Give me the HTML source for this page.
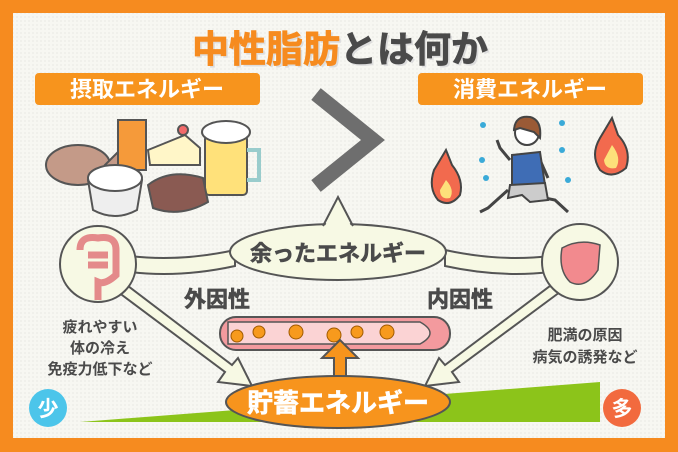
<!DOCTYPE html>
<html><head><meta charset="utf-8"><style>
body{margin:0;width:678px;height:452px;overflow:hidden;background:#f68b1f}
svg{display:block}
text{font-family:"Liberation Sans","Noto Sans CJK JP",sans-serif;font-weight:bold}
</style></head><body>
<svg width="678" height="452" viewBox="0 0 678 452">
<defs><pattern id="dots" width="4" height="4" patternUnits="userSpaceOnUse"><rect width="4" height="4" fill="#f7f7f2"/><circle cx="1" cy="1" r="0.6" fill="#e2e2dc"/></pattern></defs>
<rect x="0" y="0" width="678" height="452" fill="#f68b1f"/>
<rect x="13" y="13" width="652" height="425" fill="url(#dots)"/>
<!-- title -->
<text x="340" y="62" font-size="37" text-anchor="middle" fill="#ddd" transform="translate(2,2)">中性脂肪とは何か</text>
<text x="340" y="62" font-size="37" text-anchor="middle" stroke-width="0.8"><tspan fill="#f68b1f" stroke="#f68b1f">中性脂肪</tspan><tspan fill="#4a4a4a" stroke="#4a4a4a">とは何か</tspan></text>
<!-- labels -->
<rect x="35" y="73" width="225" height="32" rx="4" fill="#f7941d"/>
<text x="147" y="97" font-size="22" fill="#fff" text-anchor="middle">摂取エネルギー</text>
<rect x="418" y="73" width="225" height="32" rx="4" fill="#f7941d"/>
<text x="530" y="97" font-size="22" fill="#fff" text-anchor="middle">消費エネルギー</text>
<!-- chevron -->
<polyline points="316,94 373,140 316,186" fill="none" stroke="#6e6e6e" stroke-width="15"/>
<!-- foods -->
<g stroke="#555" stroke-width="2">
<ellipse cx="78" cy="165" rx="32" ry="20" fill="#c49a88"/>
<polygon points="105,165 122,148 120,180" fill="#c49a88"/>
<rect x="118" y="120" width="28" height="50" fill="#f59a3a"/>
<path d="M148,150 L185,135 L200,148 L200,165 L150,165Z" fill="#fff6c8"/>
<circle cx="183" cy="130" r="5" fill="#f26a6a"/>
<rect x="205" y="135" width="42" height="60" rx="4" fill="#ffe17a"/>
<path d="M247,150 h12 v30 h-12" fill="none" stroke="#9cc" stroke-width="4"/>
<ellipse cx="226" cy="132" rx="24" ry="11" fill="#fff"/>
<path d="M88,180 Q115,165 142,180 L137,210 Q115,222 93,210Z" fill="#eee"/>
<ellipse cx="115" cy="178" rx="27" ry="13" fill="#fff"/>
<path d="M148,185 Q170,168 203,178 L208,202 Q180,218 153,208Z" fill="#8a5a52"/>
</g>
<!-- runner & flames -->
<g stroke="#444" stroke-width="2">
<path d="M446,150 L452,165 Q464,180 460,195 Q450,208 438,200 Q428,188 434,170Z" fill="#f26a4e"/>
<path d="M446,180 Q455,190 450,198 Q440,200 440,190Z" fill="#fde07a" stroke="none"/>
<path d="M612,118 L618,135 Q632,150 626,168 Q612,180 600,170 Q590,155 600,138Z" fill="#f26a4e"/>
<path d="M612,145 Q622,158 616,168 Q605,170 604,160Z" fill="#fde07a" stroke="none"/>
<path d="M508,190 L488,208 L480,212 M530,195 L555,200 L568,212" fill="none" stroke-width="3"/>
<path d="M510,160 L500,148 L497,140" fill="none" stroke-width="3"/>
<path d="M540,160 L548,178" fill="none" stroke-width="3"/>
<path d="M512,155 L540,152 L545,185 L512,188Z" fill="#3f6db5"/>
<path d="M510,185 L545,183 L548,200 L530,202 L522,195 L508,198Z" fill="#ccc"/>
<circle cx="527" cy="133" r="12" fill="#fff"/>
<path d="M514,130 Q515,115 530,117 Q542,120 540,138 L534,132 L520,128Z" fill="#9a5a36"/>
</g>
<g fill="#3aaad8"><circle cx="482" cy="160" r="3"/><circle cx="562" cy="150" r="3"/><circle cx="568" cy="180" r="3"/><circle cx="486" cy="178" r="3"/><circle cx="483" cy="125" r="3"/><circle cx="562" cy="123" r="3"/></g>
<!-- green wedge -->
<polygon points="80,422 600,382 600,422" fill="#8cc41a"/>
<circle cx="48" cy="408" r="19" fill="#4cc5ea"/>
<text x="48" y="416" font-size="21" fill="#fff" text-anchor="middle">少</text>
<circle cx="622" cy="408" r="19" fill="#f26a3e"/>
<text x="622" y="416" font-size="21" fill="#fff" text-anchor="middle">多</text>
<!-- connectors -->
<g fill="#f7f9e4" stroke="#555" stroke-width="2">
<path d="M130,256 Q180,262 235,250 L235,266 Q180,278 130,272Z"/>
<path d="M445,250 Q500,262 550,256 L550,272 Q500,278 445,266Z"/>
<path d="M118,292 L225,372 L218,382 L252,386 L238,358 L232,365 L128,286Z"/>
<path d="M560,292 L452,372 L459,382 L425,386 L439,358 L445,365 L550,286Z"/>
<ellipse cx="338" cy="252" rx="108" ry="28"/>
<path d="M325,226 L338,196 L351,226Z" stroke="none"/>
<path d="M323,226 L338,197 L353,226" fill="none"/>
<circle cx="98" cy="264" r="38"/>
<circle cx="580" cy="262" r="38"/>
</g>
<!-- organs -->
<path d="M80,250 Q80,235 98,238 Q116,235 116,250 L116,275 Q105,285 98,282 L98,300 M88,255 h20 M88,265 h20" fill="none" stroke="#e48a8a" stroke-width="7"/>
<path d="M562,248 Q580,238 600,245 L598,270 Q585,290 570,282 Q558,270 562,248Z" fill="#f28a8e" stroke="#555" stroke-width="1.5"/>
<text x="338" y="261" font-size="22" fill="#4a4a4a" stroke="#4a4a4a" stroke-width="0.6" text-anchor="middle">余ったエネルギー</text>
<text x="217" y="307" font-size="22" fill="#4a4a4a" stroke="#4a4a4a" stroke-width="0.6" text-anchor="middle">外因性</text>
<text x="460" y="307" font-size="22" fill="#4a4a4a" stroke="#4a4a4a" stroke-width="0.6" text-anchor="middle">内因性</text>
<!-- vessel -->
<rect x="220" y="317" width="230" height="33" rx="16" fill="#f39a9e" stroke="#555" stroke-width="2"/>
<path d="M228,322 L420,322 Q440,333 420,344 L228,344Z" fill="#fbd3d4" stroke="#555" stroke-width="1.5"/>
<g fill="#f79a1d" stroke="#a05a00" stroke-width="1"><circle cx="237" cy="336" r="6"/><circle cx="259" cy="332" r="6"/><circle cx="296" cy="332" r="7"/><circle cx="334" cy="335" r="7"/><circle cx="357" cy="332" r="6"/><circle cx="387" cy="332" r="7"/></g>
<!-- up arrow -->
<polygon points="334,392 334,358 322,358 340,340 358,358 346,358 346,392" fill="#f7941d" stroke="#555" stroke-width="2"/>
<!-- storage -->
<ellipse cx="338" cy="402" rx="112" ry="26" fill="#f7941d" stroke="#555" stroke-width="2"/>
<text x="338" y="412" font-size="26" fill="#fff" stroke="#fff" stroke-width="0.6" text-anchor="middle">貯蓄エネルギー</text>
<!-- side text -->
<g font-size="15" fill="#4a4a4a" text-anchor="middle">
<text x="100" y="332">疲れやすい</text><text x="100" y="353">体の冷え</text><text x="100" y="374">免疫力低下など</text>
<text x="585" y="340">肥満の原因</text><text x="585" y="362">病気の誘発など</text>
</g>
</svg>
</body></html>
